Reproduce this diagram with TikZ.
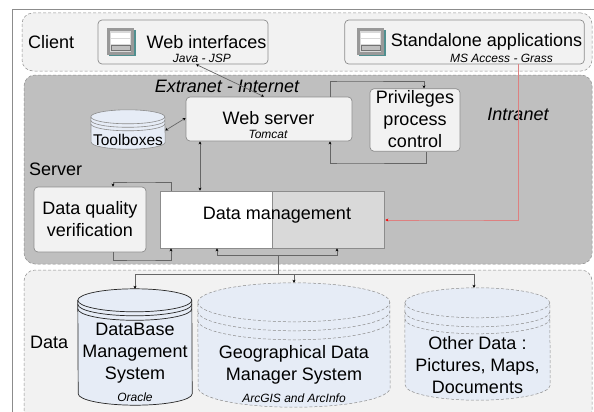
\documentclass[tikz,border=0pt]{standalone}
\usepackage{fontspec}
\setmainfont{Liberation Sans}
\usepackage{tikz}
\usetikzlibrary{arrows.meta}

\definecolor{panelgray}{HTML}{F2F2F2}
\definecolor{servergray}{HTML}{BFBFBF}
\definecolor{drumblue}{HTML}{E6ECF6}
\definecolor{linegray}{HTML}{666666}
\definecolor{edgegray}{HTML}{8C8C8C}
\definecolor{lanred}{HTML}{DD8080}
\definecolor{iconteal}{HTML}{4F8F8F}

\tikzset{
    panel/.style = {draw=edgegray, densely dashed, rounded corners=11pt, inner sep=0pt, line width=0.5pt},
    softbox/.style = {draw=edgegray, fill=panelgray, rounded corners=4pt, inner sep=0pt, line width=0.7pt},
    bigtext/.style = {font = {\fontsize{18}{22}\selectfont}, align=center, inner sep=0pt},
    smalltext/.style = {font = {\fontsize{12}{14}\selectfont\itshape}, inner sep=0pt},
    link/.style = {draw=linegray, line width=0.7pt, arrows={-Stealth[length=3pt,width=3pt,black]}},
    twolink/.style = {draw=linegray, line width=0.7pt, arrows={Stealth[length=3pt,width=3pt,black]-Stealth[length=3pt,width=3pt,black]}},
    redlink/.style = {draw=lanred, line width=0.8pt, arrows={-Stealth[length=3pt,width=3pt,red]}},
    drumspace/.style = {inner sep=0pt}
}

% body and rims of a disk drum: name, half width, half height of the ellipse, gaps, outline
\newcommand{\datadrum}[6]{
    \path[fill=drumblue, #6] ([yshift=-#3pt]#1.north west) arc[start angle=180, end angle=0, x radius=#2pt, y radius=#3pt]
        -- ([yshift=#3pt]#1.south east) arc[start angle=0, end angle=-180, x radius=#2pt, y radius=#3pt] -- cycle;
    \draw[#6] ([yshift=-#3pt]#1.north west) arc[start angle=180, end angle=360, x radius=#2pt, y radius=#3pt];
    \draw[#6] ([yshift=-#3pt-#4pt]#1.north west) arc[start angle=180, end angle=360, x radius=#2pt, y radius=#3pt];
    \draw[#6] ([yshift=-#3pt-#5pt]#1.north west) arc[start angle=180, end angle=360, x radius=#2pt, y radius=#3pt];
}

\begin{document}
\begin{tikzpicture}[x=1pt, y=-1pt]
    \clip (0,0) rectangle (594,412);
    \useasboundingbox (0,0) rectangle (594,412);
    \fill[white] (0,0) rectangle (594,412);

    % outer frame
    \draw[color=edgegray, line width=0.7pt] (12.5,412) -- (12.5,9.5) -- (594,9.5);

    % panels
    \node[panel, fill=panelgray, minimum width=570pt, minimum height=58pt] (client) at (307,42) {};
    \node[panel, fill=servergray, minimum width=568pt, minimum height=189pt] (server) at (308,169.5) {};
    \node[panel, fill=panelgray, minimum width=568pt, minimum height=152pt] (data) at (308,346) {};

    \node[bigtext, anchor=west] (clientname) at (28,42) {Client};
    \node[bigtext, anchor=west] (servername) at (29,169) {Server};
    \node[bigtext, anchor=west] (dataname) at (30,342) {Data};

    % client boxes
    \node[softbox, minimum width=170pt, minimum height=44pt] (webui) at (183,42) {};
    \node[softbox, minimum width=239.5pt, minimum height=44pt] (standalone) at (464.5,42) {};

    \foreach \ix in {107,357}{
        \fill[iconteal] (\ix+1.5,30) rectangle (\ix+28.5,56.5);
        \fill[black!40] (\ix,28) rectangle (\ix+27,55);
        \fill[black!15] (\ix+3,31) rectangle (\ix+24,52);
        \fill[white] (\ix+4,33) rectangle (\ix+23,38);
        \fill[white] (\ix+4,39) rectangle (\ix+23,44);
        \filldraw[fill=black!25, draw=black!55, line width=0.5pt] (\ix+4,45.5) rectangle (\ix+23,50.5);
    }

    \node[bigtext] (webuitext) at (206.5,42) {Web interfaces};
    \node[smalltext] (webuisub) at (202,58) {Java - JSP};
    \node[bigtext] (standtext) at (486.5,42) {Standalone applications};
    \node[smalltext] (standsub) at (501.5,58) {MS Access - Grass};

    % server boxes
    \node[softbox, minimum width=166pt, minimum height=44pt] (webserver) at (269,119) {};
    \node[softbox, bigtext, minimum width=90pt, minimum height=62.5pt] (privileges) at (415,120) {};
    \node[bigtext] (privilegestext) at (415,119) {Privileges\\process\\control};
    \node[softbox, bigtext, minimum width=112pt, minimum height=65pt] (quality) at (90,219.5) {Data quality\\verification};
    \node[draw=edgegray, fill=white, line width=0.7pt, minimum width=224pt, minimum height=57pt, inner sep=0pt] (management) at (272,219.5) {};
    \fill[black!15] (272,191) rectangle (384,248);
    \draw[color=edgegray, line width=0.7pt] (272,191) -- (272,248);
    \draw[color=edgegray, line width=0.7pt] (160,191) rectangle (384,248);

    \node[bigtext] (webservertext) at (268.5,118) {Web server};
    \node[smalltext] (webserversub) at (268,134.5) {Tomcat};
    \node[bigtext] (managementtext) at (277,215) {Data management};
    \node[bigtext, font={\fontsize{18}{22}\selectfont\itshape}] (extranet) at (227,86) {Extranet - Internet};
    \node[bigtext, font={\fontsize{18}{22}\selectfont\itshape}] (intranet) at (518,114) {Intranet};

    % drums
    \node[drumspace, minimum width=74pt, minimum height=39pt] (toolboxes) at (128,129.5) {};
    \datadrum{toolboxes}{37}{7}{3.5}{7}{draw=edgegray, line width=0.6pt}
    \node[bigtext, font={\fontsize{15.5}{18}\selectfont}] (toolboxestext) at (128,140) {Toolboxes};

    \node[drumspace, minimum width=114pt, minimum height=116pt] (dbms) at (135,347) {};
    \datadrum{dbms}{57}{11.5}{4}{8.5}{draw=black!85, line width=0.7pt}
    \node[bigtext] (dbmstext) at (135,353) {DataBase\\Management\\System};
    \node[smalltext] (dbmssub) at (135,397) {Oracle};

    \node[drumspace, minimum width=192pt, minimum height=124pt] (geo) at (294,345) {};
    \datadrum{geo}{96}{19.5}{9}{18}{draw=edgegray, densely dashed, line width=0.5pt}
    \node[bigtext] (geotext) at (294,365) {Geographical Data\\Manager System};
    \node[smalltext] (geosub) at (294,398) {ArcGIS and ArcInfo};

    \node[drumspace, minimum width=145pt, minimum height=112pt] (other) at (477.5,344) {};
    \datadrum{other}{72.5}{15}{9}{16}{draw=edgegray, densely dashed, line width=0.5pt}
    \node[bigtext] (othertext) at (477.5,365) {Other Data :\\Pictures, Maps,\\Documents};

    % connectors
    \coordinate (busjoin) at (278,255);
    \draw[twolink] ([xshift=13pt]webui.south) -- ([xshift=-5pt]webserver.north);
    \draw[twolink] ([yshift=-1pt]toolboxes.east) -- ([yshift=1pt]webserver.west);
    \draw[link] ([xshift=61pt]webserver.north) |- (343,81) -| ([xshift=9pt]privileges.north);
    \draw[link] ([xshift=11.5pt]privileges.south) |- (343,163) -| ([xshift=61pt]webserver.south);
    \draw[twolink] ([xshift=-69pt]webserver.south) -- ([xshift=-72pt]management.north);
    \draw[link] ([xshift=-101pt]management.north) |- (140,182) -| ([xshift=23pt]quality.north);
    \draw[link] ([xshift=23pt]quality.south) |- (140,260) -| ([xshift=-101pt]management.south);
    \draw[link] (busjoin) -| ([xshift=-55pt]management.south);
    \draw[link] (busjoin) -| ([xshift=65pt]management.south);
    \draw[link] (busjoin) |- (200,274.5) -| (dbms.north);
    \draw[link] (busjoin) |- (286,274.5) -| (geo.north);
    \draw[link] (busjoin) |- (400,274.5) -| ([xshift=-3.5pt]other.north);
    \draw[redlink] ([xshift=53.5pt]standalone.south) |- (450,220) -- ([xshift=1pt]management.east |- 450,220);
\end{tikzpicture}
\end{document}
